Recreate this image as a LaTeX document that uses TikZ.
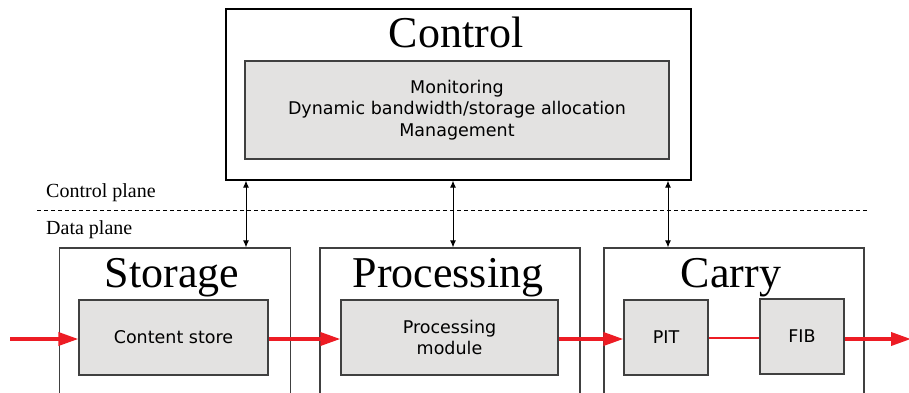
\documentclass[tikz,border=0pt]{standalone}
\usepackage{fontspec}
\setmainfont{Liberation Serif}
\newfontfamily\boxfont{DejaVu Sans}
\usetikzlibrary{arrows.meta}
\definecolor{flowred}{HTML}{ED1C24}
\definecolor{boxgrey}{HTML}{E3E2E1}
\definecolor{edgegrey}{HTML}{404040}
\tikzset{
  outerbox/.style={draw=edgegrey, line width=1.3pt, inner sep=0pt},
  innerbox/.style={draw=edgegrey, fill=boxgrey, line width=1.2pt, inner sep=0pt, font=\boxfont\fontsize{17.5}{21.5}\selectfont, align=center},
  titletext/.style={anchor=base, inner sep=0pt, font=\fontsize{44}{50}\selectfont},
  planetext/.style={anchor=base west, inner sep=0pt, font=\fontsize{20}{24}\selectfont},
  biarrow/.style={{Latex[length=7pt,width=6pt]}-{Latex[length=7pt,width=6pt]}, line width=0.9pt, black},
  flow/.style={-{Triangle[length=20pt,width=13pt]}, line width=3.6pt, flowred},
  thinflow/.style={line width=1.5pt, flowred}
}
\begin{document}
\begin{tikzpicture}[x=1pt,y=-1pt]
\useasboundingbox (0,0) rectangle (909,392);
\fill[white] (0,0) rectangle (909,392);
% control
\node[outerbox, draw=black, minimum width=465pt, minimum height=171pt] (ctrl) at (458.5,94.5) {};
\node[titletext] (ctrltitle) at (456,47) {Control};
\node[innerbox, minimum width=424pt, minimum height=98pt] (ctrlin) at (457,110) {Monitoring\\Dynamic bandwidth/storage allocation\\Management};
% planes
\node[planetext] (cplane) at (46,197) {Control plane};
\node[planetext] (dplane) at (46,234) {Data plane};
\coordinate (dl) at (37,210);
\coordinate (dr) at (868,210);
\draw[dashed, dash pattern=on 4pt off 3pt, line width=1.0pt] (dl) -- (dr);
% bottom boxes
\node[outerbox, minimum width=231pt, minimum height=148pt] (stor) at (175,322) {};
\node[titletext] (stortitle) at (172,287) {Storage};
\node[innerbox, minimum width=189pt, minimum height=75pt] (cs) at (173.5,337.5) {Content store};
\node[outerbox, minimum width=260pt, minimum height=148pt] (proc) at (450,322) {};
\node[titletext] (proctitle) at (448,287) {Processing};
\node[innerbox, minimum width=217pt, minimum height=75pt] (pm) at (449.5,337.5) {Processing\\module};
\node[outerbox, minimum width=260pt, minimum height=148pt] (carry) at (734,322) {};
\node[titletext] (carrytitle) at (731,287) {Carry};
\node[innerbox, minimum width=84pt, minimum height=75pt] (pit) at (666,337.5) {PIT};
\node[innerbox, minimum width=84pt, minimum height=75pt] (fib) at (802,336.5) {FIB};
% vertical control arrows
\draw[biarrow] (ctrl.south -| 246,0) -- (stor.north -| 246,0);
\draw[biarrow] (ctrl.south -| 453,0) -- (proc.north -| 453,0);
\draw[biarrow] (ctrl.south -| 668,0) -- (carry.north -| 668,0);
% red flow
\coordinate (in) at (10,339);
\coordinate (out) at (911,339);
\draw[flow] (in) -- (cs.west |- in);
\draw[flow] (cs.east |- in) -- (pm.west |- in);
\draw[flow] (pm.east |- in) -- (pit.west |- in);
\draw[thinflow] (pit.east |- 0,338) -- (fib.west |- 0,338);
\draw[flow] (fib.east |- out) -- (out);
\end{tikzpicture}
\end{document}
